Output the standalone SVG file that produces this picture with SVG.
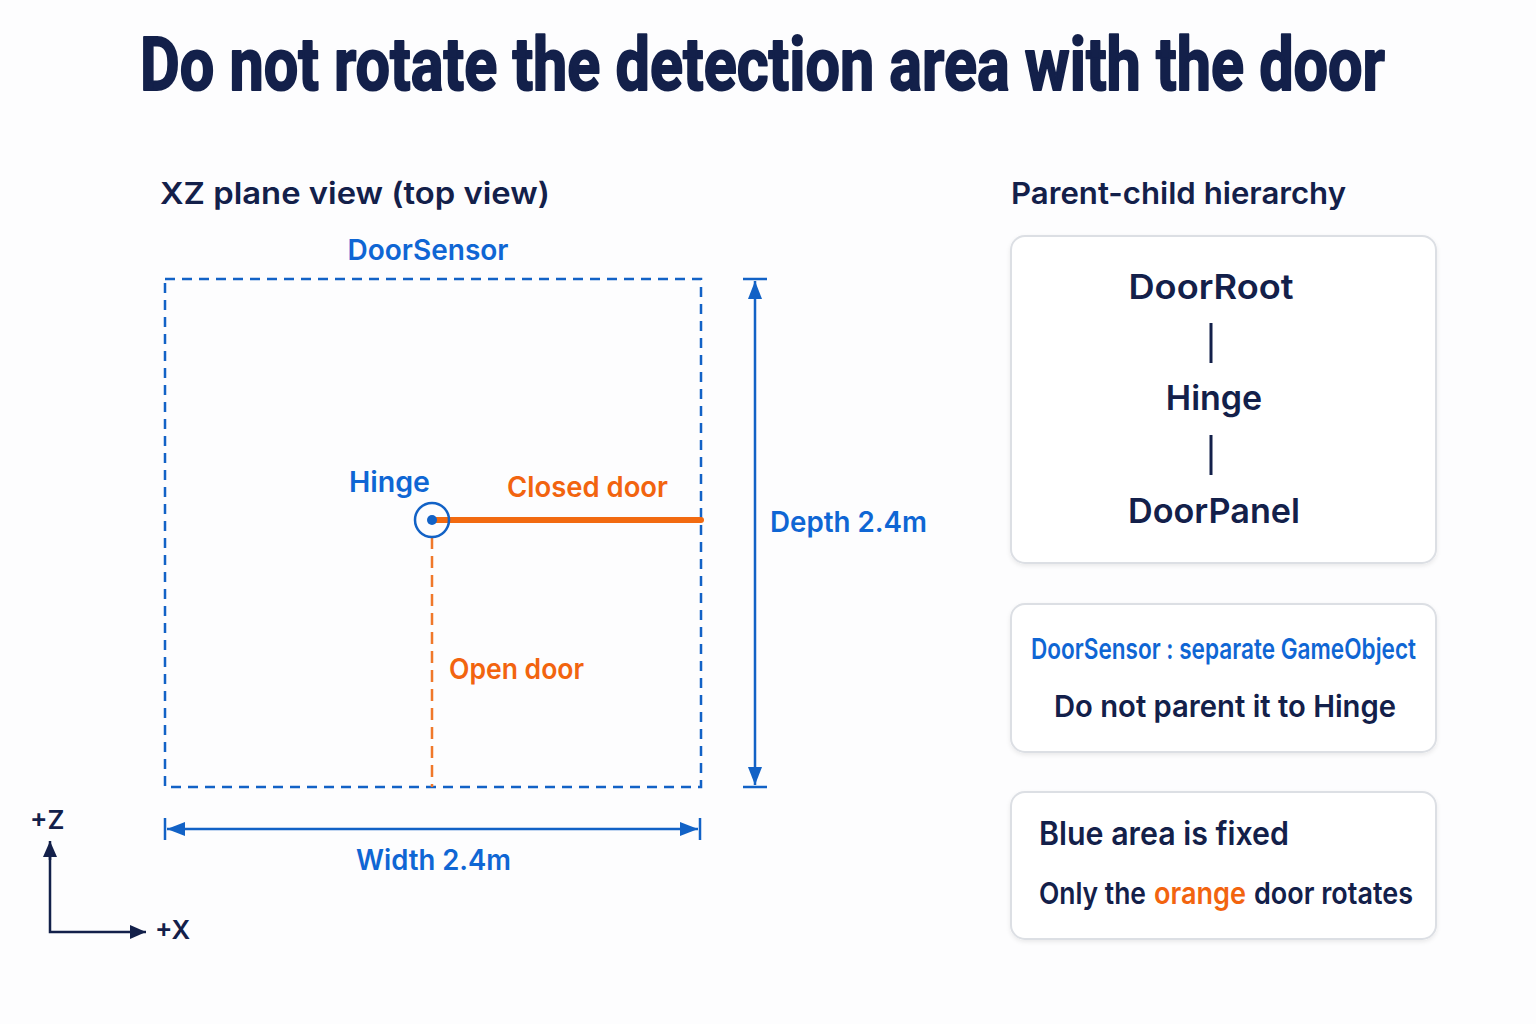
<svg xmlns="http://www.w3.org/2000/svg" width="1536" height="1024" viewBox="0 0 1536 1024">
<defs>
<style>
.t{font-family:Inter,"Open Sans","Liberation Sans",sans-serif;font-weight:600}
.navy{fill:#13204a}
.blue{fill:#0f66d4}
.orange{fill:#f2640f}
.card{fill:#ffffff;stroke:#dcdfe4;stroke-width:2}
.dim{stroke:#1262c6;stroke-width:2.5;fill:none}
</style>
<marker id="ab" viewBox="0 0 10 10" refX="10" refY="5" markerWidth="18" markerHeight="14" markerUnits="userSpaceOnUse" orient="auto-start-reverse" preserveAspectRatio="none"><path d="M0,0 L10,5 L0,10 z" fill="#1262c6"/></marker>
<marker id="an" viewBox="0 0 10 10" refX="10" refY="5" markerWidth="16" markerHeight="14" markerUnits="userSpaceOnUse" orient="auto" preserveAspectRatio="none"><path d="M0,0 L10,5 L0,10 z" fill="#13204a"/></marker>
<filter id="sh" x="-5%" y="-5%" width="110%" height="115%"><feDropShadow dx="0" dy="2" stdDeviation="2" flood-color="#000" flood-opacity="0.08"/></filter>
</defs>
<rect width="1536" height="1024" fill="#fdfdfe"/>
<text transform="translate(762.5,90) scale(1,1.19)" x="0" y="0" text-anchor="middle" font-family="Roboto,'Liberation Sans',sans-serif" font-weight="700" font-size="62" fill="#13204a" stroke="#13204a" stroke-width="1.6" stroke-linejoin="round" textLength="1245" lengthAdjust="spacingAndGlyphs">Do not rotate the detection area with the door</text>

<text class="t navy" x="160" y="204" font-size="30" textLength="390" lengthAdjust="spacingAndGlyphs">XZ plane view (top view)</text>
<text class="t navy" x="1011" y="204" font-size="30" textLength="335" lengthAdjust="spacingAndGlyphs">Parent-child hierarchy</text>

<g id="doorsensor">
<rect x="165" y="279" width="536" height="508" fill="none" stroke="#1262c6" stroke-width="2.5" stroke-dasharray="10 7"/>
<text class="t blue" x="428" y="260" font-size="28" text-anchor="middle">DoorSensor</text>
</g>

<g id="opendoor">
<line x1="432" y1="537" x2="432" y2="787" stroke="#f0782a" stroke-width="2.5" stroke-dasharray="12 7"/>
<text class="t orange" x="449" y="679" font-size="28" textLength="135" lengthAdjust="spacingAndGlyphs">Open door</text>
</g>

<g id="closeddoor">
<line x1="432" y1="520" x2="701" y2="520" stroke="#f26a10" stroke-width="6" stroke-linecap="round"/>
<text class="t orange" x="507" y="497" font-size="28" textLength="161" lengthAdjust="spacingAndGlyphs">Closed door</text>
</g>

<g id="hinge">
<circle cx="432" cy="520" r="17" fill="none" stroke="#1262c6" stroke-width="2.5"/>
<circle cx="432" cy="520" r="5" fill="#1262c6"/>
<text class="t blue" x="349" y="492" font-size="28" textLength="81" lengthAdjust="spacingAndGlyphs">Hinge</text>
</g>

<g id="hierarchy">
<rect class="card" x="1011" y="236" width="425" height="327" rx="14" filter="url(#sh)"/>
<text class="t navy" x="1211" y="299" font-size="34" text-anchor="middle" textLength="165" lengthAdjust="spacingAndGlyphs">DoorRoot</text>
<text class="t navy" x="1214" y="410" font-size="34" text-anchor="middle">Hinge</text>
<text class="t navy" x="1214" y="523" font-size="34" text-anchor="middle" textLength="172" lengthAdjust="spacingAndGlyphs">DoorPanel</text>
</g>

<g id="sensor-note">
<rect class="card" x="1011" y="604" width="425" height="148" rx="14" filter="url(#sh)"/>
<text class="t blue" x="1031" y="659" font-size="28" textLength="385" lengthAdjust="spacingAndGlyphs">DoorSensor : separate GameObject</text>
<text class="t navy" x="1054" y="717" font-size="30" textLength="342" lengthAdjust="spacingAndGlyphs">Do not parent it to Hinge</text>
</g>

<g id="fixed-note">
<rect class="card" x="1011" y="792" width="425" height="147" rx="14" filter="url(#sh)"/>
<text class="t navy" x="1039" y="845" font-size="32" textLength="250" lengthAdjust="spacingAndGlyphs">Blue area is fixed</text>
<text class="t navy" x="1039" y="904" font-size="30" textLength="107" lengthAdjust="spacingAndGlyphs">Only the</text>
<text class="t orange" x="1154" y="904" font-size="30" textLength="92" lengthAdjust="spacingAndGlyphs">orange</text>
<text class="t navy" x="1254" y="904" font-size="30" textLength="159" lengthAdjust="spacingAndGlyphs">door rotates</text>
</g>

<g id="connectors">
<line class="dim" x1="755" y1="281" x2="755" y2="785" marker-start="url(#ab)" marker-end="url(#ab)"/>
<line class="dim" x1="743" y1="279" x2="767" y2="279"/>
<line class="dim" x1="743" y1="787" x2="767" y2="787"/>
<line class="dim" x1="167" y1="829" x2="698" y2="829" marker-start="url(#ab)" marker-end="url(#ab)"/>
<line class="dim" x1="165" y1="818" x2="165" y2="840"/>
<line class="dim" x1="700" y1="818" x2="700" y2="840"/>
<path d="M50,850 L50,932 L138,932" fill="none" stroke="#13204a" stroke-width="2.5"/>
<line x1="50" y1="860" x2="50" y2="841" stroke="#13204a" stroke-width="2.5" marker-end="url(#an)"/>
<line x1="130" y1="932" x2="146" y2="932" stroke="#13204a" stroke-width="2.5" marker-end="url(#an)"/>
<line x1="1211" y1="323" x2="1211" y2="363" stroke="#13204a" stroke-width="3"/>
<line x1="1211" y1="435" x2="1211" y2="475" stroke="#13204a" stroke-width="3"/>
</g>

<text class="t blue" x="770" y="532" font-size="28" textLength="157" lengthAdjust="spacingAndGlyphs">Depth 2.4m</text>
<text class="t blue" x="356" y="870" font-size="28" textLength="155" lengthAdjust="spacingAndGlyphs">Width 2.4m</text>
<text class="t navy" x="30" y="829" font-size="26" font-weight="700">+Z</text>
<text class="t navy" x="155" y="939" font-size="26" font-weight="700">+X</text>
</svg>
